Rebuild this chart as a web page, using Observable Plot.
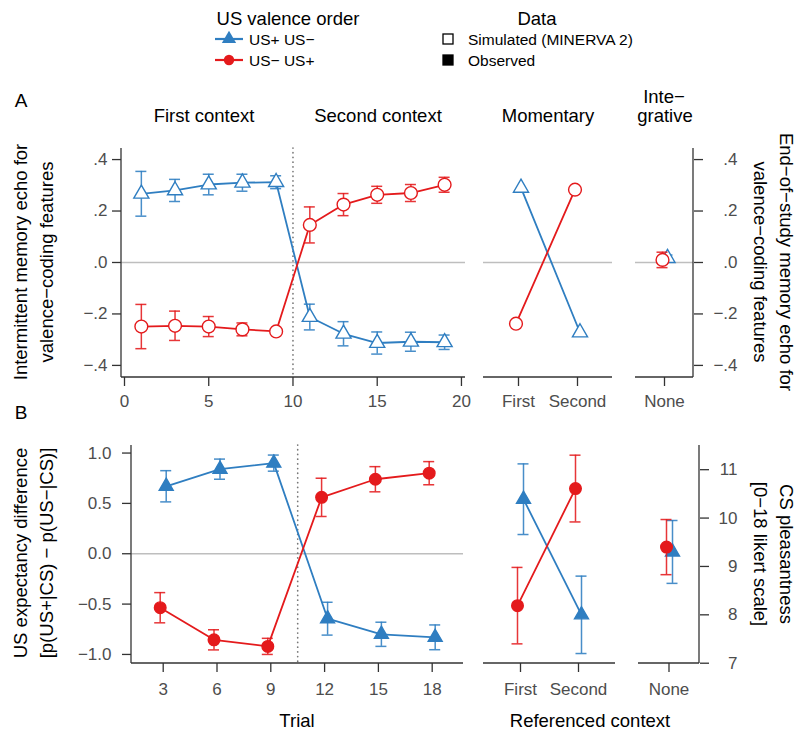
<!DOCTYPE html>
<html><head><meta charset="utf-8">
<script src="https://cdn.jsdelivr.net/npm/d3@7"></script>
<script src="https://cdn.jsdelivr.net/npm/@observablehq/plot@0.6"></script>
<style>
body{margin:0;background:#fff;}
#root{position:relative;width:799px;height:734px;font-family:"Liberation Sans",Arial,Helvetica,sans-serif;overflow:hidden;background:#fff;}
.pan{position:absolute;}
.pan svg{overflow:visible;max-width:none;background:transparent;}
.t{position:absolute;white-space:nowrap;color:#000;line-height:1;}
</style></head><body><div id="root"></div>
<script>
// ---------------- DATA ----------------
// Panel A, simulated (MINERVA 2) intermittent echo by trial
const trialsSim = [1, 3, 5, 7, 9, 11, 13, 15, 17, 19];
const simUpDown    = [0.267, 0.28, 0.303, 0.31, 0.312, -0.212, -0.277, -0.313, -0.308, -0.31];
const simUpDownErr = [0.087, 0.043, 0.04, 0.033, 0.025, 0.05, 0.047, 0.043, 0.037, 0.028];
const simDownUp    = [-0.249, -0.246, -0.249, -0.26, -0.268, 0.146, 0.225, 0.263, 0.27, 0.302];
const simDownUpErr = [0.086, 0.057, 0.039, 0.025, 0.006, 0.07, 0.043, 0.033, 0.033, 0.029];
// Panel A, end-of-study echo
const momContexts = ["First", "Second"];
const intContexts = ["None"];
const simMomUpDown = [0.29, -0.272];
const simMomDownUp = [-0.238, 0.283];
const simIntUpDown = [0.017], simIntUpDownErr = [0.012];
const simIntDownUp = [0.01],  simIntDownUpErr = [0.03];
// Panel B, observed US expectancy by trial
const trialsObs = [3, 6, 9, 12, 15, 18];
const obsUpDown    = [0.67, 0.84, 0.90, -0.645, -0.80, -0.83];
const obsUpDownErr = [0.155, 0.10, 0.08, 0.163, 0.12, 0.123];
const obsDownUp    = [-0.536, -0.855, -0.92, 0.56, 0.74, 0.80];
const obsDownUpErr = [0.15, 0.10, 0.08, 0.19, 0.125, 0.115];
// Panel B, CS pleasantness
const obsMomUpDown = [10.39, 8.0],  obsMomUpDownErr = [0.73, 0.80];
const obsMomDownUp = [8.19, 10.61], obsMomDownUpErr = [0.79, 0.69];
const obsIntUpDown = [9.30], obsIntUpDownErr = [0.65];
const obsIntDownUp = [9.40], obsIntDownUpErr = [0.57];
// reference lines (context switch)
const switchA = [10];
const switchB = [10.5];
// ticks
const trialTicksA = [0, 5, 10, 15, 20];
const trialTicksB = [3, 6, 9, 12, 15, 18];
const echoTicks = [-0.4, -0.2, 0, 0.2, 0.4];
const echoTickLabels = ["−.4", "−.2", ".0", ".2", ".4"];
const expTicks = [-1, -0.5, 0, 0.5, 1];
const expTickLabels = ["−1.0", "−0.5", "0.0", "0.5", "1.0"];
const likertTicks = [7, 8, 9, 10, 11];
// legend texts
const valenceOrders = ["US+ US−", "US− US+"];
const dataTypes = ["Simulated (MINERVA 2)", "Observed"];

// ---------------- STYLE ----------------
const BLUE = "#2F7EC1", RED = "#E41A1C";
const FONT = '"Liberation Sans", Arial, Helvetica, sans-serif';
const TICKCOL = "#4d4d4d", AXCOL = "#333";
const root = document.getElementById("root");
const plotStyle = {fontSize: "17px", fontFamily: FONT, background: "transparent", overflow: "visible"};

function rows(xs, ys, es) { return xs.map((x, i) => ({x, y: ys[i], e: es ? es[i] : 0})); }
// single-category panels use the category index on a linear scale
function idxRows(cats, ys, es) { return cats.map((c, i) => ({x: i, y: ys[i], e: es ? es[i] : 0})); }

function place(el, left, top, w) {
  const d = document.createElement("div");
  d.className = "pan"; d.style.left = left + "px"; d.style.top = top + "px"; d.style.width = w + "px";
  d.appendChild(el); root.appendChild(d);
}
function label(str, x, y, {size = 18.5, rotate = 0, anchor = "middle", color = "#000"} = {}) {
  const d = document.createElement("div");
  d.className = "t"; d.textContent = str;
  d.style.fontSize = size + "px"; d.style.left = x + "px"; d.style.top = y + "px"; d.style.color = color;
  const tx = anchor === "middle" ? "-50%" : anchor === "start" ? "0%" : "-100%";
  d.style.transform = `translate(${tx},-50%) rotate(${rotate}deg)`;
  root.appendChild(d);
}
function axisLines(sides) {
  return (index, scales, values, dims) => {
    const {width, height, marginLeft, marginRight, marginTop, marginBottom} = dims;
    const l = marginLeft, r = width - marginRight, t = marginTop, b = height - marginBottom;
    const g = d3.create("svg:g").attr("stroke", AXCOL).attr("stroke-width", 1.3).attr("fill", "none");
    if (sides.includes("left")) g.append("line").attr("x1", l).attr("x2", l).attr("y1", t).attr("y2", b);
    if (sides.includes("right")) g.append("line").attr("x1", r).attr("x2", r).attr("y1", t).attr("y2", b);
    if (sides.includes("bottom")) g.append("line").attr("x1", l).attr("x2", r).attr("y1", b).attr("y2", b);
    return g.node();
  };
}
function series(data, {color, symbol, r, filled, dx = 0, line = true, bars = true}) {
  const m = [];
  if (line) m.push(Plot.line(data, {x: "x", y: "y", stroke: color, strokeWidth: 1.8, dx}));
  if (bars) {
    const eb = {stroke: color, strokeWidth: 1.5, strokeOpacity: 0.88, dx};
    m.push(Plot.ruleX(data, {x: "x", y1: d => d.y - d.e, y2: d => d.y + d.e, ...eb}));
    m.push(Plot.ruleY(data, {x1: "x", x2: "x", y: d => d.y + d.e, insetLeft: -5.5, insetRight: -5.5, ...eb}));
    m.push(Plot.ruleY(data, {x1: "x", x2: "x", y: d => d.y - d.e, insetLeft: -5.5, insetRight: -5.5, ...eb}));
  }
  m.push(Plot.dot(data, {x: "x", y: "y", symbol, r, stroke: color, strokeWidth: 1.4, fill: filled ? color : "white", dx}));
  return m;
}
const axX = (o) => Plot.axisX({tickSize: 9, fill: TICKCOL, stroke: AXCOL, strokeWidth: 1.3, label: null, ...o});
const axY = (o) => Plot.axisY({tickSize: 9, fill: TICKCOL, stroke: AXCOL, strokeWidth: 1.3, label: null, ...o});

const echoDomain = [-0.447, 0.443];
const expDomain = [-1.09, 1.075];
const likertDomain = [6.994, 11.5];
const intDomain = [-0.5, intContexts.length - 0.5];
const intTicks = intContexts.map((c, i) => i);
const intFormat = i => intContexts[i];

// ---------------- PANEL A ----------------
place(Plot.plot({
  width: 475, height: 290, marginLeft: 121, marginRight: 10, marginTop: 18, marginBottom: 43,
  style: plotStyle,
  x: {domain: [-0.178, 20.24]}, y: {domain: echoDomain},
  marks: [
    Plot.ruleY([0], {stroke: "#BEBEBE", strokeWidth: 1.5}),
    Plot.ruleX(switchA, {stroke: "#777", strokeWidth: 1.7, strokeDasharray: "0.1,4.6", strokeLinecap: "round"}),
    axisLines(["left", "bottom"]),
    axX({ticks: trialTicksA, tickPadding: 8, tickFormat: d => String(d)}),
    axY({ticks: echoTicks, tickPadding: 5, tickFormat: d => echoTickLabels[echoTicks.indexOf(d)]}),
    ...series(rows(trialsSim, simUpDown, simUpDownErr), {color: BLUE, symbol: "triangle", r: 5.6, filled: false}),
    ...series(rows(trialsSim, simDownUp, simDownUpErr), {color: RED, symbol: "circle", r: 6.4, filled: false})
  ]
}), 0, 130, 475);

place(Plot.plot({
  width: 145, height: 290, marginLeft: 8, marginRight: 8, marginTop: 18, marginBottom: 43,
  style: plotStyle,
  x: {type: "point", domain: momContexts, padding: 0.593}, y: {domain: echoDomain, axis: null},
  marks: [
    Plot.ruleY([0], {stroke: "#BEBEBE", strokeWidth: 1.5}),
    axisLines(["bottom"]),
    axX({tickPadding: 8}),
    ...series(rows(momContexts, simMomUpDown), {color: BLUE, symbol: "triangle", r: 5.6, filled: false, dx: 2.5, bars: false}),
    ...series(rows(momContexts, simMomDownUp), {color: RED, symbol: "circle", r: 6.4, filled: false, dx: -2.5, bars: false})
  ]
}), 475, 130, 145);

place(Plot.plot({
  width: 174, height: 290, marginLeft: 10, marginRight: 106, marginTop: 18, marginBottom: 43,
  style: plotStyle,
  x: {domain: intDomain}, y: {domain: echoDomain},
  marks: [
    Plot.ruleY([0], {stroke: "#BEBEBE", strokeWidth: 1.5}),
    axisLines(["bottom", "right"]),
    axX({ticks: intTicks, tickPadding: 8, tickFormat: intFormat}),
    axY({anchor: "right", ticks: echoTicks, tickPadding: 35, textAnchor: "end", tickFormat: d => echoTickLabels[echoTicks.indexOf(d)]}),
    ...series(idxRows(intContexts, simIntUpDown, simIntUpDownErr), {color: BLUE, symbol: "triangle", r: 5.6, filled: false, dx: 3, line: false}),
    ...series(idxRows(intContexts, simIntDownUp, simIntDownUpErr), {color: RED, symbol: "circle", r: 6.4, filled: false, dx: -2, line: false})
  ]
}), 625, 130, 174);

// ---------------- PANEL B ----------------
place(Plot.plot({
  width: 475, height: 314, marginLeft: 131, marginRight: 12, marginTop: 25, marginBottom: 71,
  style: plotStyle,
  x: {domain: [1.232, 19.746]}, y: {domain: expDomain},
  marks: [
    Plot.ruleY([0], {stroke: "#BEBEBE", strokeWidth: 1.5}),
    Plot.ruleX(switchB, {stroke: "#777", strokeWidth: 1.7, strokeDasharray: "0.1,4.6", strokeLinecap: "round"}),
    axisLines(["left", "bottom"]),
    axX({ticks: trialTicksB, tickPadding: 10, tickFormat: d => String(d)}),
    axY({ticks: expTicks, tickPadding: 11, tickFormat: d => expTickLabels[expTicks.indexOf(d)]}),
    ...series(rows(trialsObs, obsUpDown, obsUpDownErr), {color: BLUE, symbol: "triangle", r: 5.2, filled: true, dx: 3}),
    ...series(rows(trialsObs, obsDownUp, obsDownUpErr), {color: RED, symbol: "circle", r: 5.8, filled: true, dx: -3})
  ]
}), 0, 420, 475);

place(Plot.plot({
  width: 148, height: 314, marginLeft: 8, marginRight: 8, marginTop: 25, marginBottom: 71,
  style: plotStyle,
  x: {type: "point", domain: momContexts, padding: 0.619}, y: {domain: likertDomain, axis: null},
  marks: [
    axisLines(["bottom"]),
    axX({tickPadding: 10}),
    ...series(rows(momContexts, obsMomUpDown, obsMomUpDownErr), {color: BLUE, symbol: "triangle", r: 5.2, filled: true, dx: 3}),
    ...series(rows(momContexts, obsMomDownUp, obsMomDownUpErr), {color: RED, symbol: "circle", r: 5.8, filled: true, dx: -3})
  ]
}), 475, 420, 148);

place(Plot.plot({
  width: 174, height: 314, marginLeft: 13, marginRight: 100, marginTop: 25, marginBottom: 71,
  style: plotStyle,
  x: {domain: intDomain}, y: {domain: likertDomain},
  marks: [
    axisLines(["bottom", "right"]),
    axX({ticks: intTicks, tickPadding: 10, tickFormat: intFormat}),
    axY({anchor: "right", ticks: likertTicks, tickPadding: 29, textAnchor: "end", tickFormat: d => String(d)}),
    ...series(idxRows(intContexts, obsIntUpDown, obsIntUpDownErr), {color: BLUE, symbol: "triangle", r: 5.2, filled: true, dx: 3.5, line: false}),
    ...series(idxRows(intContexts, obsIntDownUp, obsIntDownUpErr), {color: RED, symbol: "circle", r: 5.8, filled: true, dx: -2.5, line: false})
  ]
}), 625, 420, 174);

// ---------------- LEGEND ----------------
const leg = d3.create("svg").attr("width", 799).attr("height", 75).style("font-family", FONT).style("overflow", "visible");
leg.append("text").attr("x", 288).attr("y", 18).attr("text-anchor", "middle").attr("dominant-baseline", "central").attr("font-size", 18.5).text("US valence order");
leg.append("text").attr("x", 537).attr("y", 18).attr("text-anchor", "middle").attr("dominant-baseline", "central").attr("font-size", 18.5).text("Data");
const legColors = [BLUE, RED], legSyms = [d3.symbolTriangle, d3.symbolCircle], legSizes = [88, 85], legY = [39, 60];
valenceOrders.forEach((s, i) => {
  leg.append("line").attr("x1", 215).attr("x2", 243).attr("y1", legY[i]).attr("y2", legY[i]).attr("stroke", legColors[i]).attr("stroke-width", 2.2);
  leg.append("path").attr("d", d3.symbol(legSyms[i], legSizes[i])()).attr("transform", `translate(229,${legY[i]})`).attr("fill", legColors[i]);
  leg.append("text").attr("x", 249).attr("y", legY[i]).attr("dominant-baseline", "central").attr("font-size", 15.5).text(s);
});
dataTypes.forEach((s, i) => {
  leg.append("rect").attr("x", 443).attr("y", legY[i] - 5).attr("width", 10).attr("height", 10)
    .attr("fill", i === 0 ? "white" : "black").attr("stroke", "black").attr("stroke-width", 1.3);
  leg.append("text").attr("x", 468).attr("y", legY[i]).attr("dominant-baseline", "central").attr("font-size", 15.5).text(s);
});
place(leg.node(), 0, 0, 799);

// ---------------- TEXT ----------------
label("A", 21, 100, {size: 19});
label("B", 21, 412, {size: 19});
label("First context", 204, 116);
label("Second context", 378, 116);
label("Momentary", 548, 116);
label("Inte−", 664, 97);
label("grative", 665, 116);
label("Intermittent memory echo for", 21, 262, {rotate: -90});
label("valence−coding features", 47, 262, {rotate: -90});
label("End−of−study memory echo for", 786, 262, {rotate: 90});
label("valence−coding features", 760, 262, {rotate: 90});
label("US expectancy difference", 21, 553, {rotate: -90});
label("[p(US+|CS) − p(US−|CS)]", 47, 553, {rotate: -90});
label("CS pleasantness", 786, 554, {rotate: 90});
label("[0−18 likert scale]", 760, 554, {rotate: 90});
label("Trial", 297, 721);
label("Referenced context", 590, 721);
</script></body></html>
